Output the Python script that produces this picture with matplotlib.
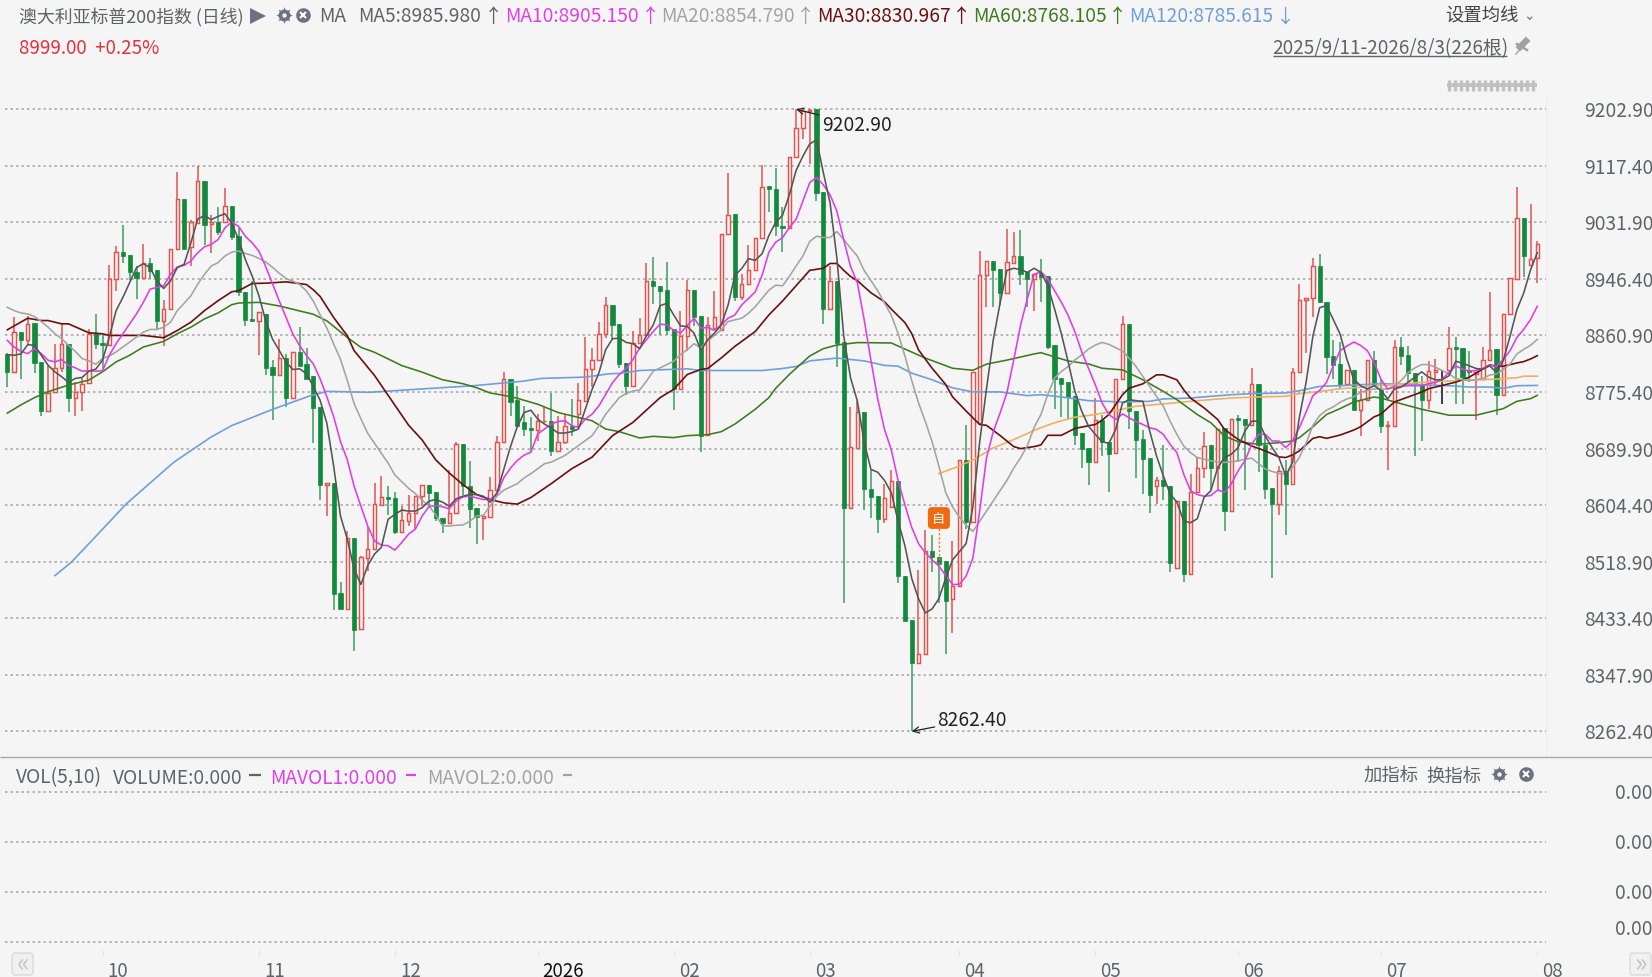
import numpy as np
import matplotlib
matplotlib.use('Agg')
import matplotlib.pyplot as plt
from matplotlib.patches import Rectangle, FancyBboxPatch
from matplotlib.transforms import ScaledTranslation

plt.rcParams['font.family'] = ['Noto Sans CJK SC', 'DejaVu Sans']
plt.rcParams['axes.unicode_minus'] = False

# 日K数据
opens = [8832.5,8806,8866,8853.5,8879.5,8821,8747.5,8775,8812.5,8847.5,
         8766,8776,8788.5,8863.5,8850,8847,8946,8987,8982.5,8957.5,
         8947.5,8971,8960,8882.5,8901,8991,9067.5,8995,9031,9095,
         9029.5,9032.5,9032.5,9056,9011,8926,8886,8882.5,8894,8813,
         8800.5,8826.5,8767,8835.5,8818,8799,8753,8635.5,8638,8471.5,
         8447,8555.5,8416.5,8524.5,8538,8604.5,8617,8615.5,8564.5,8580.5,
         8593,8618,8635.5,8624.5,8585.5,8577,8592,8697,8634,8599.5,
         8585.5,8587,8627,8699.5,8795,8763,8729.5,8720.5,8718,8731,
         8732,8686,8699.5,8724.5,8742,8762,8810.5,8823.5,8863,8907,
         8878,8819.5,8784.5,8849.5,8862,8943,8936,8929.5,8871,8779.5,
         8859.5,8929.5,8891,8711,8872,8869.5,9014.5,9044.5,8918.5,8938,
         8960.5,9008,9087,9083,9026,9024,9130,9175,9201,9202.9,
         9077.5,8901,8942.7,8851.5,8600,8691,8745.5,8629.5,8618,8583,
         8602,8640.6,8498,8431,8366,8380,8535,8526.6,8520,8462,
         8481.6,8672.7,8579,8728,8953,8974,8962,8925,8970,8981,
         8956.3,8947,8955,8951.4,8846.4,8796.4,8790,8769,8713,8691,
         8669,8733,8700,8683,8795.4,8879,8746.4,8704,8675,8634,
         8643,8634,8510,8610,8500,8625,8661,8695,8661,8721.4,
         8595,8736,8734,8725,8787,8696,8630,8606,8656,8636,
         8805,8914,8918,8965.4,8912,8829.4,8818,8788,8809,8749,
         8764,8824,8779,8724,8724,8844,8831,8804,8788,8763,
         8806.4,8808,8808,8843,8842,8808,8803,8795,8824,8840,
         8771,8894,8947,9038,8967,8978]
highs = [8834,8888.5,8866,8891,8879.5,8821,8816,8847.5,8878.5,8847.5,
         8791,8798.5,8871,8893,8863.5,8967,8996,9028,8982.5,8966,
         8998.5,8978.5,8960,8915,8992,9108.5,9067.5,9036,9117,9095,
         9043.5,9055,9083.5,9056,9023,8926,8943.5,8896,8894,8824,
         8855.5,8833,8835.5,8874,8842,8799,8753,8638,8638,8489,
         8565.5,8555.5,8528,8572,8638,8649,8633,8624.5,8603,8620.5,
         8618,8635.5,8635.5,8624.5,8585.5,8658,8700.5,8697,8671.5,8599.5,
         8588,8646.5,8709.5,8805.5,8795,8784,8754.5,8737,8742,8753,
         8774.5,8739.5,8742,8765.5,8788.5,8858,8842,8882,8918.5,8907,
         8878,8819.5,8867,8887,8971,8979.5,8936,8972,8871,8898.5,
         8945.5,8929.5,8891,8889.5,8928,9014.5,9106,9044.5,8954.5,8997,
         9008.5,9118,9087,9114.5,9055,9130,9202.9,9202.9,9202.9,9202.9,
         9077.5,8965.5,8942.7,8851.5,8753,8762,8745.5,8657,8618,8636,
         8657,8640.6,8498,8431,8506,8566.6,8560,8526.6,8520,8550.6,
         8672.7,8725,8805,8988.3,8974,8974,8962,9022,9018,9020,
         8956.3,8954,8976.4,8951.4,8846.4,8796.4,8790,8769,8713,8691,
         8766,8741,8700,8795.4,8890,8879,8746.4,8718,8675,8647,
         8695,8634,8611,8610,8652,8677,8715,8695,8720,8721.4,
         8735,8741,8734,8812,8787,8709,8630,8664,8673,8812,
         8939,8918,8978,8984.4,8912,8854,8851.4,8808,8809,8780,
         8824,8838,8795,8732,8854,8859,8845,8804,8800,8823,
         8825,8808,8874,8859,8842,8838,8805,8843,8926,8840,
         8894,8948,9086,9038,9059,9003]
lows = [8783.5,8806,8795,8846,8803.5,8738.5,8747.5,8775,8806,8745,
        8738.5,8747.5,8788.5,8841,8810,8847,8927.5,8970,8945,8916,
        8947.5,8946,8871,8845,8901,8991,8991,8966,9031,8997,
        8986,9013.5,9032.5,9006,8921,8876,8882.5,8831,8800.5,8733,
        8800.5,8753,8767,8815.5,8795.5,8699,8611.5,8588,8445.5,8447,
        8447,8384.5,8416.5,8505.5,8538,8604.5,8589,8560.5,8564.5,8573,
        8568,8603,8603,8580.5,8562,8577,8592,8620.5,8570.5,8545.5,
        8552,8587,8627,8699.5,8739,8724,8709.5,8687,8702,8729,
        8678.5,8686,8697,8709.5,8722,8762,8783,8823.5,8857,8856,
        8812,8771,8784.5,8849.5,8862,8908,8862,8862,8748.5,8779.5,
        8837,8874.5,8685.5,8711,8872,8869.5,9014.5,8913.5,8914.5,8938,
        8960.5,9008,9047,9011,8987,9024,9130,9158,9120,9064,
        8878,8901,8812.6,8457,8600,8691,8597,8585,8563,8577,
        8602,8486,8429,8262.4,8366,8380,8503,8456,8380,8410.7,
        8481.6,8568,8579,8728,8904,8904,8907,8925,8970,8936.5,
        8904,8898,8911.4,8840,8750,8738,8734,8695,8661,8635,
        8669,8678,8624,8683,8795.4,8719,8646,8621,8593,8606,
        8612,8503,8510,8489,8500,8625,8646,8628,8626,8565,
        8595,8669,8628,8725,8655,8614,8494,8589,8559,8636,
        8805,8834,8889,8911.4,8803,8794.4,8780,8785,8749,8709,
        8764,8785,8713,8657,8724,8816,8790,8678,8701,8750,
        8785,8758,8808,8758,8758,8790,8733,8795,8824,8740,
        8771,8894,8947,8949.4,8967,8940]
closes = [8806,8866,8853.5,8878.5,8820,8747.5,8773.5,8812.5,8847.5,8766,
          8775,8787.5,8863.5,8848.5,8847,8946,8987,8981,8957,8947.5,
          8970,8958.5,8882.5,8901,8992,9067.5,8991,9032.5,9095,9028.5,
          9032.5,9017,9056,9010,8927,8884.5,8882.5,8896,8811.5,8800.5,
          8826.5,8767,8835.5,8815.5,8795.5,8751.5,8634.5,8638,8470.5,8447,
          8555.5,8415.5,8525.5,8538,8605.5,8617,8614,8564,8581.5,8593,
          8618,8635.5,8623,8585.5,8578,8593,8697,8633,8598,8587,
          8588,8628,8699.5,8795,8760.5,8724,8719.5,8718,8732,8732,
          8686,8700.5,8724.5,8719.5,8763,8810.5,8823.5,8863.5,8907,8877,
          8818.5,8784.5,8849.5,8862,8943,8936,8928.5,8869.5,8779.5,8860.5,
          8929.5,8889.5,8709.5,8877,8888.5,9014.5,9043.5,8918.5,8938,8960.5,
          9008.5,9086,9082,9027,9023.5,9130,9175,9200,9202,9076.5,
          8901,8942.7,8850,8600,8693,8745,8629.5,8617,8583,8615,
          8640.6,8497,8429,8366,8380,8535,8526.6,8515.5,8460,8481.6,
          8672.7,8579,8805,8953,8974,8960.6,8925,8971.7,8981,8954.5,
          8947,8954,8950,8844,8795,8788,8768,8711,8689,8669,
          8733,8700,8682,8795.4,8879,8746.4,8703,8674,8620,8643,
          8633,8516.4,8610,8500,8625,8661,8694,8660,8720,8595,
          8735,8733,8725.4,8787,8695,8629,8606,8656,8636,8805,
          8915,8918,8965.4,8911.4,8828,8816.4,8788,8808,8749,8763,
          8824,8785,8724,8726,8844,8830,8804,8788,8763,8807,
          8809,8808,8842,8840,8798,8806,8805,8824,8839,8771,
          8894,8948,9038,8981.4,8977,8999]

# 均线: every bar for the short ones, the long ones as read points
ma5 = [8832,8831,8833,8847,8846,8831,8816,8806,8798.5,8790,8796,8797.5,8807,8810,8823.5,8858.5,8898.5,8918.5,8941,8963.5,
       8969.5,8963.5,8943.5,8932,8943.5,8963.5,8968.5,9001,9037,9042,9036,9041,9045,9031,9006,8976,8951,8921,
       8883,8855.5,8838,8820.5,8809.5,8810.5,8803,8784,8763,8728,8663,8588,8553,8508,8484.5,8513,8530.5,8540.5,8583,8590.5,
       8597,8595.5,8595.5,8600.5,8610.5,8613,8609,8603,8614,8618,8620.5,8620.5,8618,8609,8623,8658,8693,8723,
       8744.5,8748,8734.5,8727,8721,8713.5,8713.5,8715.5,8719.5,8749.5,8779.5,8804.5,8839.5,8856,8857,8850.5,8848.5,8841,8861,
       8877,8906,8909.5,8892,8875.5,8874.5,8864.5,8838,8854.5,8864.5,8877,8907,8952,8962,8977,8974.5,8984.5,9012,9032,
       9042.6,9073.4,9110.4,9132,9150.5,9156.6,9107.3,9061,8977.9,8860.7,8797.2,8762.1,8700.4,8658.5,8654.2,8641.9,8623.4,
       8580.2,8543.2,8493.9,8463.1,8441.5,8447.6,8463.1,8493.9,8521.6,8534,8546.3,8601.8,8700.4,8780.6,8854.6,8910.1,8959.4,
       8962.5,8960.6,8956.3,8962.5,
       8956.4,8936.4,8901.4,8863.9,8821.4,8776.4,8746.4,8723.9,8711.4,8700.4,8697.9,8718.9,8758.9,8763.9,8762.4,8761.4,8716.4,
       8678.9,8648.9,8621.4,8608.9,8580.4,8577.9,8583.9,8616.4,8626.4,8661.4,8676.4,8681.4,8691.4,8716.4,8731.4,8731.4,8708.9,
       8691.4,8676.4,8648.9,8668.9,8736.4,
       8790,8860,8903,8906,8885,8863,8825,8795,8785,8780,8785,8778,8765,8780,8783,8790,8798,8806,8798,8794,8794,8800,8822,8819,
       8815,8811,8810,8815,8805,8823,8860,8900,8925,8960,8986]
ma10 = [8853.5,8843.5,8837,8833.5,8841,8833.5,8823.5,8821,8824.5,8816,8812,8807,8807.5,8807,8807.5,8831,8848.5,8863.5,8878.5,8893.5,
        8911,8931,8933.5,8936,8953.5,8964.5,8967,8973.5,8986,8995,8998.5,9006,9023.5,9032.5,9026,9011,9001,8988.5,
        8965,8939,8913,8888,8863,8845.5,8830.5,8818,8795.5,8768,8738,8700.5,8673,8633,8603,8573,8550.5,8544,8543,8536.5,8548,
        8560.5,8568,8588,8602,8604,8602,8599,8610.5,8617,8618,8615.5,8613,8613,8620.5,8645.5,8660.5,8672,
        8680,8684.5,8712,8719.5,8727,8731,8732,8724.5,8722,8734.5,8742,8754.5,8772,8789.5,8802,8811,8824.5,8842,8854.5,8867,
        8878,8877,8868.5,8864.5,8876,8887,8872,8873,8868.5,8877,8887,8892,8907,8917,8927,8952,8987,9002,
        9008.7,9024.1,9036.4,9064.2,9091.9,9099.9,9088.8,9073.4,9048.8,9005.6,8965.5,8940.9,8885.4,8823.7,8765.2,8718.9,8688.1,
        8641.9,8604.9,8570.9,8546.3,8532.7,8521.6,8512.4,8498.2,8484.6,8484.6,8497,8524.7,8595.6,8675.8,8715.8,8743.6,8774.4,
        8823.7,8876.1,8916.2,8953.2,
        8957.4,8946.4,8928.9,8911.4,8891.4,8866.4,8836.4,8811.4,8786.4,8758.9,8741.4,8733.9,8742.4,8736.4,8730.4,8726.4,8721.4,
        8718.9,8711.4,8696.4,8683.9,8651.4,8626.4,8620.4,8617.9,8618.9,8627.4,8623.9,8636.4,8656.4,8671.4,8696.4,8711.4,8711.4,
        8701.4,8701.4,8691.4,8701.4,8721.4,
        8745,8770,8778,8790,8815,8838,8845,8851,8846,8838,8820,8795,8780,8783,8784,8785,8785,8785,8788,8790,8795,8805,8815,8810,
        8807,8808,8811,8816,8814,8825,8838,8858,8870,8885,8905]
ma20 = [8903.5,8898.5,8895,8893.5,8889.5,8882,8873.5,8863.5,8856,8846,8837,8826,8822.5,8817.5,8826,8830,8836,8843.5,8851,8858.5,
        8866,8870,8870,8873.5,8881,8898.5,8909.5,8921,8938.5,8953.5,8966,8971,8981,8987,8988.5,8985,8982,8977.5,
        8972,8964,8955,8947,8943,8938,8928,8913,8892,8872,8848,8825,8793,8758,8735,8713,8698,8683,8668,8650,8640,8630,8622,8612,
        8603,8590,8573,8573,8574,8574.5,8580,8588,8589,8603,8618,8627,8632,8637,
        8645.5,8652,8659.5,8667,8669.5,8674.5,8679.5,8687,8694.5,8702,8709.5,8724.5,8742,8754.5,8767,8773,8777,8778.5,8792,8807,
        8812,8817,8822,8832,8839.5,8848.5,8842,8853,8861,8869.5,8882,8884.5,8887,8894.5,8904.5,8917,8929.5,8937,
        8936,8950,8966,8981,9003,9011,9009,9009,9018,9006,8993,8981,8959.4,8944,8928.5,8910,8891.5,8864,8830,8793,8759,8731,
        8700.4,8663.5,8623.4,8601.8,8586.4,8574,8564.8,8580,8595.6,8611,8626.5,8641.9,8660.4,8675.8,8694.3,8722,
        8741.4,8771.4,8796.4,8806.4,8813.9,8823.9,8831.4,8840.4,8846.4,8850.4,8847.4,8842.4,8837.4,8826.4,8813.9,8798.9,8783.9,
        8768.9,8753.9,8731.4,8711.4,8693.9,8683.9,8676.4,8673.9,8671.4,8669.9,8668.9,8669.9,8671.4,8673.9,8675.4,8667.4,8658.9,
        8655.4,8652.4,8651.4,8661.4,8676.4,
        8698,8725,8740,8748,8753,8760,8765,8768,8775,8778,8780,8780,8780,8785,8793,8805,8812,8817,8817,8813,8808,8803,8796,8794,
        8793,8794,8796,8801,8803,8810,8818,8833,8840,8846,8855]
ma30_x = [0,3,5,6,8,9,12,14,15,20,23,25,27,29,31,33,34,36,38,41,44,45,46,48,50,51,54,56,59,61,63,65,67,69,71,73,75,77,80,83,
          86,89,92,96,98,100,102,103,105,107,110,112,114,118,120,121,122,123,124,125,127,129,130,132,133,134,136,138,139,
          141,143,144,146,148,149,151,152,153,155,157,160,161,162,163,164,165,167,169,170,172,173,174,176,178,179,181,183,
          185,187,188,189,190,192,193,194,196,198,199,200,201,202,203,204,206,208,209,211,213,215,217,218,219,220,222,223,224,225]
ma30 = [8869.5,8887,8883.5,8883.5,8878.5,8878.5,8865,8863.5,8861,8861,8857.5,8868.5,8881,8898.5,8913.5,8927,8928.5,8939.5,8940,8942,
        8938,8930,8920,8888,8860.5,8838,8800.5,8770.5,8725.5,8703,8673,8653,8635.5,8620.5,8613,8608,8606,8616,8637,8659.5,
        8677,8709.5,8729.5,8767,8779.5,8802,8809.5,8811,8827,8844.5,8867,8892,8913,8959.4,8962.5,8969.8,8969.8,8959.4,8950.1,8943.9,
        8925.5,8911.9,8900.8,8880.4,8863.8,8839.2,8811.4,8786.8,8768.3,8746.7,8726.3,8725.1,8709.7,8693,8689.9,8693,8695.4,8710,8710,8720.4,
        8726.4,8732.9,8741.4,8756.4,8771.4,8781.4,8787.9,8801.4,8801.4,8793.9,8778.9,8766.4,8751.4,8733.9,8718.9,8703.9,8693.9,8686.4,8677.4,8676.4,
        8680.4,8686.4,8705.4,8707.9,8705.4,8710.4,8717.9,8722.9,8730.4,8737.9,8741.9,8751.4,8760.4,8767.9,8775.4,8780.4,8785.4,8790.4,8797.9,8810.4,
        8816.4,8814.4,8814.4,8819.4,8821.4,8825.4,8830.4]
ma60_x = [0,2,4,6,9,12,14,16,18,20,23,25,27,29,31,33,34,37,40,43,45,47,50,52,54,58,61,64,67,69,71,73,75,78,81,86,88,90,93,95,98,100,
          103,105,107,110,112,113,115,118,120,122,125,130,132,135,139,142,144,147,151,152,156,159,161,164,167,170,172,175,177,179,181,
          184,187,189,190,192,194,196,198,201,202,204,208,212,216,220,222,224,225]
ma60 = [8743.5,8756,8767,8776,8786,8793.5,8806,8821,8831,8843.5,8852,8863.5,8873.5,8886,8895,8907.5,8910,8911,8905.5,8898,8893,8883,8858,8843,
        8835.5,8815.5,8805.5,8794,8788,8782,8774,8770.5,8766,8757,8744.5,8732,8719.5,8715.5,8706,8708.5,8706.5,8709.5,8711,8715.5,8727,8749.5,8767,
        8781,8802,8829.9,8841,8846.5,8850.2,8849.6,8840.4,8826.8,8811.4,8808.3,8817.6,8823.7,8833,8834.9,8822.4,8817.9,8811.4,8808.9,8793.9,8776.4,
        8763.9,8741.4,8728.9,8708.9,8700.4,8696.4,8698.9,8701.4,8706.4,8722.9,8741.4,8750.4,8760.4,8767.9,8766.4,8760.4,8749.4,8740.4,8740.4,8750.4,
        8761.4,8765.4,8770.4]
ma120_x = [7,9.4,12.9,17.5,24.5,29.9,33,39.2,44.6,47,53.2,60.8,68.6,76,78.5,85,88.5,90,93,100,102,111,114,116,118,122,126,129,131,133,136,
           139,142,146,150,152,155,159,164,168,170,174,177,180,183,188,190,193,196,202,212,215,218,220,222,225]
ma120 = [8498,8518,8556,8606.4,8669.4,8707,8724.7,8750,8770,8776.5,8775,8780,8785,8792,8796,8798,8803,8803.5,8808,8810.5,8808,8808,8811,
         8814,8822.5,8826.8,8822.5,8815.7,8814.5,8804,8794,8781.8,8775.6,8775.6,8770,8771.4,8768,8762.4,8760.4,8761.4,8765,8766.4,8769,8771.4,
         8773,8774,8777.4,8784,8785,8788,8785,8783,8783,8781,8785,8785.4]
ma250_x = [137,138,140,142,145,148,151.6,154,157,160,163,166,170,174,177,180,184,188,190,193,196,202,208,214,219,222,223,225]
ma250 = [8652,8656,8663.4,8672.7,8691,8703.5,8720,8729,8737.4,8741.4,8747.4,8754,8757.4,8761.4,8764,8766.4,8768,8769,8773,8776.4,8780.4,
         8785,8790,8793,8795,8797,8799.4,8799.4]

price_ticks = [9202.90, 9117.40, 9031.90, 8946.40, 8860.90, 8775.40, 8689.90, 8604.40, 8518.90, 8433.40, 8347.90, 8262.40]
month_pos = [14, 37, 57, 78, 98, 118, 140, 160, 181, 202, 225]
month_labels = ['10', '11', '12', '2026', '02', '03', '04', '05', '06', '07', '08']
vol_ticks = [3, 2, 1, 0]
vol_labels = ['0.00', '0.00', '0.00', '0.00']

bg = '#f5f5f5'
red = '#e5524e'
green = '#118a3e'
wick_green = '#3f9a62'
grid_c = '#a3a3a3'
txt_c = '#5f6368'
fs = 13.8
W, H = 1652, 978
fig = plt.figure(figsize=(W / 100, H / 100), dpi=100, facecolor=bg)


def px_axes(x0, y0, x1, y1):
    return fig.add_axes([x0 / W, 1 - y1 / H, (x1 - x0) / W, (y1 - y0) / H], facecolor=bg)


x = np.arange(len(closes))

# 主图
ax = px_axes(5, 96, 1546, 758)
ax.set_xlim((5 - 7.3) / 6.8, (1546 - 7.3) / 6.8)
ax.set_ylim(8262.4 - 25.6 * 1.511, 8262.4 + 636.7 * 1.511)
ax.set_axisbelow(True)
ax.grid(True, axis='y', color=grid_c, linewidth=1.1, linestyle=(0, (1.6, 2.0)))
ax.set_xticks([])
ax.yaxis.tick_right()
ax.set_yticks(price_ticks)
ax.set_yticklabels([f'{v:.2f}' for v in price_ticks], fontsize=fs, color=txt_c)
ax.tick_params(axis='y', length=0, pad=27.5)
for lab in ax.get_yticklabels():
    lab.set_transform(lab.get_transform() + ScaledTranslation(0, 1 / 100, fig.dpi_scale_trans))
for s in ['top', 'left', 'bottom']:
    ax.spines[s].set_visible(False)
ax.spines['right'].set_color('#eeeeee')

for i in x:
    o, h, l, c = opens[i], highs[i], lows[i], closes[i]
    if c == o:
        ax.vlines(i, l, h, color='#333333', linewidth=1.3, zorder=2)
    elif c > o:
        ax.vlines(i, l, h, color=red, linewidth=1.1, zorder=2)
        ax.bar(i, c - o, bottom=o, width=0.5, facecolor=bg, edgecolor=red, linewidth=1.05, zorder=2.2)
    else:
        ax.vlines(i, l, h, color=wick_green, linewidth=1.1, zorder=2)
        ax.bar(i, o - c, bottom=c, width=0.62, facecolor=green, edgecolor=green, linewidth=0.5, zorder=2.2)

ax.plot(ma120_x, ma120, color='#6f9fdc', linewidth=1.2, zorder=3)
ax.plot(ma250_x, ma250, color='#f0b062', linewidth=1.2, zorder=3)
ax.plot(ma60_x, ma60, color='#3f7a1f', linewidth=1.15, zorder=3.1)
ax.plot(ma30_x, ma30, color='#6a1010', linewidth=1.2, zorder=3.2)
ax.plot(x, ma20, color='#a3a3a3', linewidth=1.15, zorder=3.3)
ax.plot(x, ma10, color='#e03ce6', linewidth=1.15, zorder=3.4)
ax.plot(x, ma5, color='#555555', linewidth=1.15, zorder=3.5)

# 最高最低
hi = int(np.argmax(highs))
lo = int(np.argmin(lows))
ax.annotate('9202.90', xy=(hi, highs[hi]), xytext=(18.5, -11), textcoords='offset points', fontsize=fs,
            color='#222222', va='center', ha='left',
            arrowprops=dict(arrowstyle='->', color='#222222', lw=0.9, shrinkA=0, shrinkB=0, mutation_scale=11))
ax.annotate('8262.40', xy=(lo, lows[lo]), xytext=(18.5, 8.5), textcoords='offset points', fontsize=fs,
            color='#222222', va='center', ha='left',
            arrowprops=dict(arrowstyle='->', color='#222222', lw=0.9, shrinkA=0, shrinkB=0, mutation_scale=11))

# 自选标记
ax.vlines(137, 8515, 8572, color='#f07a20', linewidth=1.0, linestyle=(0, (1.5, 1.5)), zorder=4)
ax.text(137, 8585, '自', fontsize=9.5, color='white', ha='center', va='center', zorder=5,
        bbox=dict(boxstyle='round,pad=0.28,rounding_size=0.25', facecolor='#f06a12', edgecolor='#f06a12'))

# 副图
ax2 = px_axes(5, 758, 1546, 951)
ax2.set_xlim(ax.get_xlim())
ax2.set_ylim(-(951 - 942.7) / 50, 3 + (792.7 - 758) / 50)
ax2.set_yticks(vol_ticks)
ax2.set_yticklabels([])
ax2.grid(True, axis='y', color=grid_c, linewidth=1.1, linestyle=(0, (1.6, 2.0)))
ax2.tick_params(axis='y', length=0)
for s in ['top', 'left', 'right', 'bottom']:
    ax2.spines[s].set_visible(False)
ax2.set_xticks(month_pos)
ax2.set_xticklabels(month_labels, fontsize=13.5, color=txt_c)
ax2.tick_params(axis='x', length=4, width=0.8, color='#e4e4e4', pad=3)
for lab in ax2.get_xticklabels():
    lab.set_ha('left')
    lab.set_transform(lab.get_transform() + ScaledTranslation(5 / 100, 0, fig.dpi_scale_trans))
ax2.get_xticklabels()[3].set_color('#111111')
for v, lab, dy in zip(vol_ticks, vol_labels, [-0.7, -0.7, -0.7, 9.3]):
    ax2.annotate(lab, xy=(1, v), xycoords=ax2.get_yaxis_transform(), xytext=(50, dy), textcoords='offset points',
                 fontsize=fs, color=txt_c, va='center', ha='left', annotation_clip=False)

# 顶部文字和按钮, pixel overlay
top = fig.add_axes([0, 0, 1, 1], facecolor='none')
top.set_xlim(0, W)
top.set_ylim(H, 0)
top.axis('off')
top.hlines(758.3, 0, W, color='#a8a8a8', linewidth=1.0)


def label(px, py, s, color=txt_c, ha='left', size=fs):
    top.text(px, py, s, color=color, fontsize=size, ha=ha, va='center')


def gear(px, py):
    top.plot(px, py, marker=(8, 1, 0), color='#6b7280', markersize=12, markeredgewidth=0)
    top.plot(px, py, 'o', color='#6b7280', markersize=8.5, markeredgewidth=0)
    top.plot(px, py, 'o', color=bg, markersize=3.2, markeredgewidth=0)


def close_btn(px, py):
    top.plot(px, py, 'o', color='#6b7280', markersize=10.5, markeredgewidth=0)
    top.plot(px, py, 'x', color='white', markersize=5, markeredgewidth=1.5)


y1 = 16.5
label(19, y1, '澳大利亚标普200指数 (日线)', size=12.9)
top.plot(258, y1, '>', color='#6b7280', markersize=11, markeredgewidth=0)
gear(284, y1 - 1)
close_btn(303, y1 - 1)
label(319, y1, 'MA')
label(358, y1, 'MA5:8985.980')
label(493, y1, '↑', ha='center')
label(505, y1, 'MA10:8905.150', color='#e040e8')
label(650, y1, '↑', color='#e040e8', ha='center')
label(661, y1, 'MA20:8854.790', color='#a3a3a3')
label(805, y1, '↑', color='#a3a3a3', ha='center')
label(817, y1, 'MA30:8830.967', color='#6a1010')
label(961, y1, '↑', color='#6a1010', ha='center')
label(973, y1, 'MA60:8768.105', color='#3f7a1f')
label(1117, y1, '↑', color='#3f7a1f', ha='center')
label(1129, y1, 'MA120:8785.615', color='#6f9fdc')
label(1285, y1, '↓', color='#6f9fdc', ha='center')
label(1445, y1, '设置均线', color='#444444', size=13.2)
label(1529, y1, '⌄', color='#777777', ha='center', size=10)
label(19, 49, '8999.00  +0.25%', color='#e8303c', size=13.5)
label(1272, 49, '2025/9/11-2026/8/3(226根)', size=13.6)
top.hlines(56.7, 1273, 1507, color='#666666', linewidth=1.0)
top.plot([1516, 1521], [55, 49], color='#a0a0a0', linewidth=1.0)
top.plot([1520, 1526], [48, 42], color='#a0a0a0', linewidth=4.5)
top.plot([1517, 1527], [45, 51], color='#a0a0a0', linewidth=1.8)

# 缩放条
top.add_patch(Rectangle((1447, 84), 90, 4, facecolor='#c4c4c4', edgecolor='none'))
top.vlines(np.arange(1449, 1538, 6.0), 81, 92, color='#c0c0c0', linewidth=2.4)

y2 = 778
label(16, y2, 'VOL(5,10)')
label(113, y2, 'VOLUME:0.000')
top.hlines(776, 249, 261, color=txt_c, linewidth=1.6)
label(270, y2, 'MAVOL1:0.000', color='#e040e8')
top.hlines(776, 406, 416, color='#e040e8', linewidth=1.6)
label(427, y2, 'MAVOL2:0.000', color='#a3a3a3')
top.hlines(776, 563, 572, color='#a3a3a3', linewidth=1.6)
label(1364, 777, '加指标', size=13.2)
label(1426, 777, '换指标', size=13.2)
gear(1499, 775)
close_btn(1526, 775)

for x0, s in [(12, '«'), (1630, '»')]:
    top.add_patch(FancyBboxPatch((x0 + 1, 955), 19, 20, boxstyle='round,pad=1,rounding_size=3',
                                 facecolor='#f0f0f0', edgecolor='#d8d8d8', linewidth=0.9))
    top.text(x0 + 10.5, 964, s, color='#c4c4c4', fontsize=19, ha='center', va='center')

fig.savefig('out.png', dpi=100, facecolor=bg)
